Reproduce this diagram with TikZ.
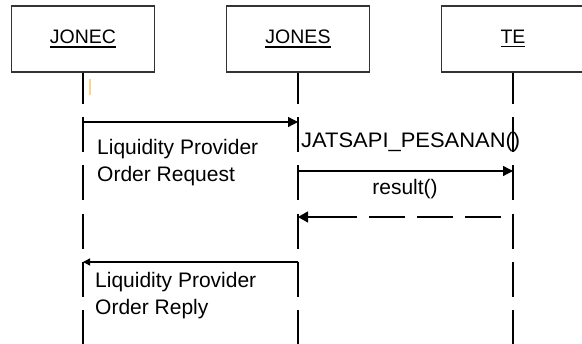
\documentclass[tikz,border=0pt]{standalone}
\usepackage{fontspec}
\setmainfont{Liberation Sans}
\usetikzlibrary{arrows.meta}
\definecolor{caretcol}{HTML}{FFD48A}
\newcommand\boxlab[1]{\vtop{\hbox{#1}\kern2.2pt\hrule height 1.3pt}}
\begin{document}
\begin{tikzpicture}[x=1pt,y=-1pt,
  objbox/.style={draw=black!80, line width=1.4pt, minimum width=143pt, minimum height=66pt, inner sep=0pt, font=\fontsize{19.5}{22}\selectfont},
  lifeline/.style={line width=1.3pt, dash pattern=on 35pt off 13.3pt, dash phase=4pt},
  msg/.style={line width=1.3pt, -{Triangle[length=10pt,width=10pt]}},
  smallmsg/.style={line width=1.3pt, -{Triangle[length=7pt,width=7pt]}},
  ret/.style={line width=1.3pt, -{Triangle[length=10pt,width=11pt]}, dash pattern=on 0pt off 12pt on 36pt off 12pt on 36pt off 12pt on 36pt off 12pt on 80pt},
  lab/.style={anchor=base west, inner sep=0pt, font=\fontsize{21}{27}\selectfont}]
\useasboundingbox (0,0) rectangle (582,344);
\clip (0,0) rectangle (582,344);

% objects
\node[objbox] (JONEC) at (83,39) {\boxlab{JONEC}};
\node[objbox] (JONES) at (298,39) {\boxlab{JONES}};
\node[objbox] (TE) at (513,39) {\boxlab{TE}};

% lifeline ends
\coordinate (jonecEnd) at (83,346);
\coordinate (jonesEnd) at (298,346);
\coordinate (teEnd) at (513,346);
\draw[lifeline] (JONEC.south) -- (jonecEnd);
\draw[lifeline] (JONES.south) -- (jonesEnd);
\draw[lifeline] (TE.south) -- (teEnd);

% faint caret mark
\coordinate (caretA) at (90,79);
\coordinate (caretB) at (90,95);
\draw[caretcol, line width=1.2pt] (caretA) -- (caretB);

% message points
\coordinate (m1s) at (83,122);
\coordinate (m1e) at (298,122);
\coordinate (m2s) at (298,171);
\coordinate (m2e) at (513,171);
\coordinate (m3s) at (513,217);
\coordinate (m3e) at (298,217);
\coordinate (m4s) at (298,262);
\coordinate (m4e) at (83,262);

\draw[msg] (m1s) -- (m1e);
\draw[msg] (m2s) -- (m2e);
\draw[ret] (m3s) -- (m3e);
\draw[smallmsg] (m4s) -- (m4e);

% labels
\node[lab] (l1a) at (97,155) {Liquidity Provider};
\node[lab] (l1b) at (97,182) {Order Request};
\node[lab] (l2) at (301,148) {\scalebox{1.045}[1]{JATSAPI\_PESANAN()}};
\node[lab, anchor=base] (l3) at (405,195) {result()};
\node[lab] (l4a) at (95,288) {Liquidity Provider};
\node[lab] (l4b) at (95,315) {Order Reply};
\end{tikzpicture}
\end{document}
